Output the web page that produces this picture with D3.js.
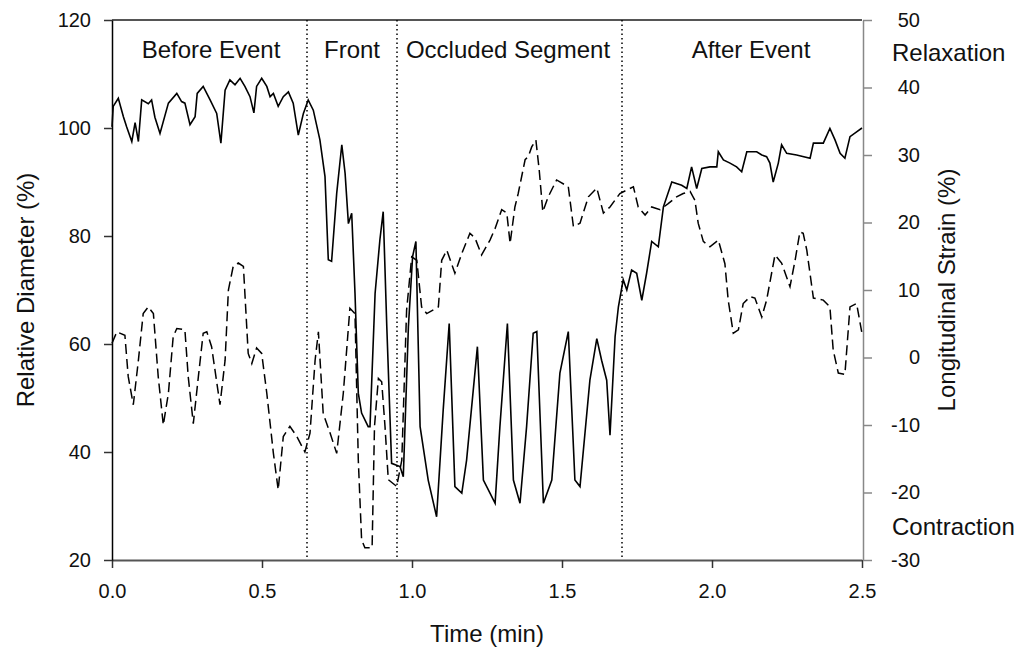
<!DOCTYPE html>
<html>
<head>
<meta charset="utf-8">
<script src="https://cdn.jsdelivr.net/npm/d3@7"></script>
<style>
  body { margin: 0; background: #fff; }
  text { font-family: "Liberation Sans", Arial, sans-serif; fill: #111; }
</style>
</head>
<body>
<div id="chart"></div>
<script>
// time (min) and relative diameter (%) - solid line, left axis
var diamTime = [0.000,0.004,0.021,0.038,0.049,0.066,0.077,0.088,0.099,0.121,0.132,0.143,0.160,0.188,0.216,0.232,0.243,0.260,0.277,0.284,0.304,0.327,0.349,0.363,0.377,0.393,0.410,0.427,0.443,0.460,0.473,0.482,0.499,0.516,0.527,0.538,0.554,0.571,0.588,0.604,0.621,0.638,0.654,0.671,0.693,0.710,0.721,0.732,0.749,0.766,0.777,0.788,0.799,0.810,0.821,0.832,0.854,0.860,0.877,0.893,0.904,0.916,0.932,0.960,0.971,0.988,1.002,1.013,1.027,1.054,1.082,1.104,1.124,1.143,1.166,1.182,1.218,1.238,1.260,1.277,1.293,1.318,1.338,1.360,1.382,1.404,1.416,1.438,1.466,1.493,1.521,1.543,1.560,1.593,1.616,1.632,1.649,1.660,1.677,1.688,1.704,1.716,1.732,1.749,1.766,1.782,1.799,1.821,1.838,1.866,1.899,1.916,1.932,1.949,1.966,1.993,2.016,2.021,2.038,2.060,2.082,2.099,2.116,2.149,2.166,2.182,2.193,2.204,2.221,2.232,2.249,2.282,2.327,2.338,2.371,2.393,2.410,2.427,2.443,2.460,2.482,2.500];
var diamValue = [100.2,104,105.5,102.1,100.2,97.5,101,97.5,105.2,104.5,105.2,102,99,104.6,106.4,104.9,104.6,100.6,102.1,106.4,107.7,105.2,102.7,97.2,107,108.9,108,109.2,107.7,105.8,102.8,107.7,109.2,107.7,105.8,106.4,104,105.8,106.7,104.6,98.7,102.7,105.2,103.3,97.8,91,75.6,75.3,87.9,96.9,91.6,82.3,84.2,69.4,50.9,47.2,44.7,44.7,69.4,79.3,84.5,63.2,37.9,37.3,35.4,63.2,76.2,79,44.7,34.8,28,47.8,63.8,33.6,32.4,38.5,59.5,34.8,32.4,30.5,44.7,63.8,34.8,30.5,44.7,62,62.3,30.5,34.8,54.6,62.3,34.8,33.6,53.3,61,57,53.3,43.1,61.4,66.9,71.9,70,73.7,73.1,68.1,73.1,79,78,85.4,90,89.4,88.8,92.8,88.8,92.5,92.8,92.8,95.6,94.1,93.5,92.8,91.9,95.6,95.6,95,94.7,93.5,90,93.5,96.9,95.3,95,94.4,97.2,97.2,99.9,97.8,95.3,94.4,98.4,99.3,100];

// time (min) and longitudinal strain (%) - dashed line, right axis
var strainTime = [0.000,0.016,0.043,0.054,0.071,0.088,0.104,0.121,0.138,0.154,0.171,0.188,0.204,0.216,0.243,0.254,0.271,0.288,0.304,0.316,0.332,0.360,0.377,0.388,0.404,0.421,0.438,0.454,0.466,0.482,0.499,0.516,0.538,0.554,0.571,0.593,0.616,0.643,0.660,0.677,0.688,0.704,0.727,0.749,0.771,0.793,0.810,0.821,0.832,0.843,0.860,0.867,0.875,0.888,0.899,0.910,0.921,0.949,0.966,0.982,0.999,1.016,1.032,1.049,1.088,1.099,1.116,1.143,1.166,1.193,1.210,1.232,1.260,1.277,1.299,1.316,1.327,1.343,1.354,1.377,1.388,1.399,1.413,1.424,1.436,1.454,1.482,1.521,1.538,1.560,1.588,1.616,1.638,1.660,1.693,1.738,1.754,1.777,1.799,1.827,1.854,1.882,1.904,1.927,1.943,1.954,1.971,1.993,2.021,2.043,2.054,2.071,2.088,2.104,2.127,2.143,2.166,2.182,2.210,2.232,2.260,2.277,2.293,2.304,2.316,2.338,2.371,2.393,2.404,2.421,2.443,2.460,2.482,2.499];
var strainValue = [2.1,3.8,3.3,-2.8,-7,-0.4,6.5,7.5,6.5,-2.8,-10,-5.3,3.1,4.3,4.1,-2.8,-9.8,-2.8,3.6,3.8,1.6,-7,-0.4,10,13.5,14,13.5,0.6,-0.9,1.4,0.6,-5.3,-14.2,-19.6,-11.7,-10.2,-11.7,-14,-11.2,-0.4,3.8,-8.3,-11.2,-14.2,-5.3,7.3,6.5,-15.2,-27,-28.2,-28.2,-28.2,-10.2,-3.1,-3.6,-10.2,-18.1,-19.1,-15.2,7,14.9,14.4,7.5,6.5,7.5,14.4,15.9,12.5,15.4,18.4,17.7,15.2,17.4,19.1,21.9,21.4,16.9,22.3,24.3,29.3,29.8,31.2,32.2,27.8,21.6,23.8,26.3,25.3,19.4,19.9,23.8,25.1,21.4,22.3,24.3,25.3,22.3,21.1,22.3,21.9,22.8,23.8,24.3,24.6,23.3,19.9,17.2,16.4,17.4,13.9,8.5,3.6,4.1,8,9,8.8,6,8.5,15.2,14,10.5,14.4,18.6,18.4,15.9,8.8,8.5,7.5,1.1,-2.3,-2.5,7.5,8,3.8];

// event boundaries and region labels
var boundaries = [0.65, 0.95, 1.70];
var regionNames = ["Before Event", "Front", "Occluded Segment", "After Event"];
var regionCenters = [0.33, 0.80, 1.32, 2.13];

var xTicks = [0, 0.5, 1.0, 1.5, 2.0, 2.5];
var leftTicks = [20, 40, 60, 80, 100, 120];
var rightTicks = [-30, -20, -10, 0, 10, 20, 30, 40, 50];

var chart_width = 1025;
var chart_height = 651;
var plot_left = 112, plot_right = 862, plot_top = 20, plot_bottom = 560;

var svg = d3.select("#chart")
    .append("svg")
    .attr("width", chart_width)
    .attr("height", chart_height);

var x_scale = d3.scaleLinear().domain([0, 2.5]).range([plot_left, plot_right]);
var yl_scale = d3.scaleLinear().domain([20, 120]).range([plot_bottom, plot_top]);
var yr_scale = d3.scaleLinear().domain([-30, 50]).range([plot_bottom, plot_top]);

// plain hyphen for negatives, like the original
var plainNum = function(d){ return String(d); };

// top border
svg.append("line")
    .attr("x1", plot_left).attr("x2", plot_right)
    .attr("y1", plot_top).attr("y2", plot_top)
    .attr("stroke", "#555").attr("stroke-width", 2);

// axes
var xAxis = svg.append("g")
    .attr("transform", "translate(0," + plot_bottom + ")")
    .call(d3.axisBottom(x_scale).tickValues(xTicks).tickFormat(d3.format(".1f")).tickSize(8).tickPadding(16).tickSizeOuter(0));
xAxis.select(".domain").attr("stroke", "#555").attr("stroke-width", 2);
xAxis.selectAll(".tick line").attr("stroke", "#333").attr("stroke-width", 1.5);

var lAxis = svg.append("g")
    .attr("transform", "translate(" + plot_left + ",0)")
    .call(d3.axisLeft(yl_scale).tickValues(leftTicks).tickFormat(plainNum).tickSize(8).tickPadding(13).tickSizeOuter(0));
lAxis.select(".domain").attr("stroke", "#000").attr("stroke-width", 1.5);
lAxis.selectAll(".tick line").attr("stroke", "#333").attr("stroke-width", 1.5);

var rAxis = svg.append("g")
    .attr("transform", "translate(" + (plot_right + 1) + ",0)")
    .call(d3.axisRight(yr_scale).tickValues(rightTicks).tickFormat(plainNum).tickSize(9).tickPadding(48).tickSizeOuter(0));
rAxis.select(".domain").attr("stroke", "#888").attr("stroke-width", 1.5);
rAxis.selectAll(".tick line").attr("stroke", "#888").attr("stroke-width", 1.5);
rAxis.selectAll(".tick text").attr("text-anchor", "end");

svg.selectAll(".tick text")
    .style("font-family", "'Liberation Sans', Arial, sans-serif")
    .style("font-size", "20px")
    .attr("fill", "#222");

// event boundaries
svg.selectAll(".boundary")
    .data(boundaries)
    .enter()
    .append("line")
    .attr("class", "boundary")
    .attr("x1", function(d){ return x_scale(d); })
    .attr("x2", function(d){ return x_scale(d); })
    .attr("y1", plot_top)
    .attr("y2", plot_bottom)
    .attr("stroke", "#000")
    .attr("stroke-width", 1.5)
    .attr("stroke-dasharray", "1.5,3");

// lines
var diamData = diamTime.map(function(t, i){ return [t, diamValue[i]]; });
var strainData = strainTime.map(function(t, i){ return [t, strainValue[i]]; });

svg.append("path")
    .datum(strainData)
    .attr("fill", "none")
    .attr("stroke", "#000")
    .attr("stroke-width", 1.5)
    .attr("stroke-dasharray", "10,5")
    .attr("d", d3.line()
        .x(function(d){ return x_scale(d[0]); })
        .y(function(d){ return yr_scale(d[1]); }));

svg.append("path")
    .datum(diamData)
    .attr("fill", "none")
    .attr("stroke", "#000")
    .attr("stroke-width", 1.6)
    .attr("d", d3.line()
        .x(function(d){ return x_scale(d[0]); })
        .y(function(d){ return yl_scale(d[1]); }));

// region labels
svg.selectAll(".region")
    .data(regionNames)
    .enter()
    .append("text")
    .attr("class", "region")
    .attr("x", function(d, i){ return x_scale(regionCenters[i]); })
    .attr("y", 58)
    .attr("text-anchor", "middle")
    .style("font-size", "24px")
    .text(function(d){ return d; });

svg.append("text")
    .attr("x", 892).attr("y", 61)
    .style("font-size", "24px")
    .text("Relaxation");

svg.append("text")
    .attr("x", 892).attr("y", 535)
    .style("font-size", "24px")
    .text("Contraction");

// axis titles
svg.append("text")
    .attr("x", (plot_left + plot_right) / 2).attr("y", 642)
    .attr("text-anchor", "middle")
    .style("font-size", "24px")
    .text("Time (min)");

svg.append("text")
    .attr("transform", "translate(34," + (plot_top + plot_bottom) / 2 + ") rotate(-90)")
    .attr("text-anchor", "middle")
    .style("font-size", "24px")
    .text("Relative Diameter (%)");

svg.append("text")
    .attr("transform", "translate(955," + (plot_top + plot_bottom) / 2 + ") rotate(-90)")
    .attr("text-anchor", "middle")
    .style("font-size", "24px")
    .text("Longitudinal Strain (%)");
</script>
</body>
</html>
